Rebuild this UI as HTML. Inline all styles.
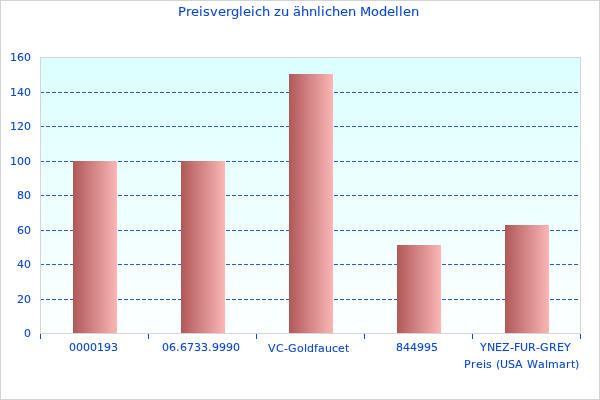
<!DOCTYPE html>
<html><head><meta charset="utf-8"><title>Preisvergleich zu ähnlichen Modellen</title>
<style>
html,body{margin:0;padding:0;background:#fff;}
svg{display:block;}
text{font-family:"DejaVu Sans","Liberation Sans",sans-serif;font-size:11px;fill:#0a48d2;font-kerning:none;font-variant-ligatures:none;stroke:#0a48d2;stroke-width:0.1px;}
</style></head><body>
<svg width="600" height="400" viewBox="0 0 600 400">
<defs>
<linearGradient id="bg" x1="0" y1="0" x2="0" y2="1"><stop offset="0" stop-color="#dcffff"/><stop offset="1" stop-color="#fdffff"/></linearGradient>
<linearGradient id="bar" x1="0" y1="0" x2="1" y2="0"><stop offset="0" stop-color="#b05858"/><stop offset="1" stop-color="#fbb6b6"/></linearGradient>
</defs>
<rect x="0.5" y="0.5" width="599" height="399" fill="#fff" stroke="#d3d3d3"/>
<rect x="40" y="57" width="541" height="277" fill="url(#bg)"/>
<g stroke="#2a5bd0" stroke-width="1" stroke-dasharray="4 2" shape-rendering="crispEdges">
<line x1="40" x2="580" y1="92.5" y2="92.5"/>
<line x1="40" x2="580" y1="126.5" y2="126.5"/>
<line x1="40" x2="580" y1="161.5" y2="161.5"/>
<line x1="40" x2="580" y1="195.5" y2="195.5"/>
<line x1="40" x2="580" y1="230.5" y2="230.5"/>
<line x1="40" x2="580" y1="264.5" y2="264.5"/>
<line x1="40" x2="580" y1="299.5" y2="299.5"/>
</g>
<rect x="40.5" y="57.5" width="540" height="276" fill="none" stroke="#d6d4d4"/>
<g fill="url(#bar)">
<rect x="73" y="161" width="44" height="172"/>
<rect x="181" y="161" width="44" height="172"/>
<rect x="289" y="74" width="44" height="259"/>
<rect x="397" y="245" width="44" height="88"/>
<rect x="505" y="225" width="44" height="108"/>
</g>
<g stroke="#0a48d2" stroke-width="1" shape-rendering="crispEdges">
<line x1="40.5" x2="40.5" y1="334" y2="339"/>
<line x1="148.5" x2="148.5" y1="334" y2="339"/>
<line x1="256.5" x2="256.5" y1="334" y2="339"/>
<line x1="364.5" x2="364.5" y1="334" y2="339"/>
<line x1="472.5" x2="472.5" y1="334" y2="339"/>
<line x1="580.5" x2="580.5" y1="334" y2="339"/>
</g>
<text x="10 17 24" y="61">160</text>
<text x="10 17 24" y="96">140</text>
<text x="10 17 24" y="130">120</text>
<text x="10 17 24" y="165">100</text>
<text x="17 24" y="199">80</text>
<text x="17 24" y="234">60</text>
<text x="17 24" y="268">40</text>
<text x="17 24" y="303">20</text>
<text x="24" y="337">0</text>
<text x="69 76 83 90 97 104 111" y="351">0000193</text>
<text x="162 169 176 180 187 194 201 208 212 219 226 233" y="351">06.6733.9990</text>
<text x="268 276 284 288 297 304 307 314 318 325 332 338 345" y="352">VC-Goldfaucet</text>
<text x="396 403 410 417 424 431" y="351">844995</text>
<text x="480 487 495 502 510 514 520 528 536 540 549 557 564" y="351">YNEZ-FUR-GREY</text>
<text x="464 471 476 483 486 492 496 500 508 515 523 527 538 545 548 559 566 571 575" y="368">Preis (USA Walmart)</text>
<text x="178 186 191 199 203 210 218 226 231 239 243 251 255 262 270 274 281 289 293 301 309 317 321 325 332 340 348 356 360 371 379 387 395 399 403 411" y="16" style="font-size:13px">Preisvergleich zu ähnlichen Modellen</text>
</svg>
</body></html>
